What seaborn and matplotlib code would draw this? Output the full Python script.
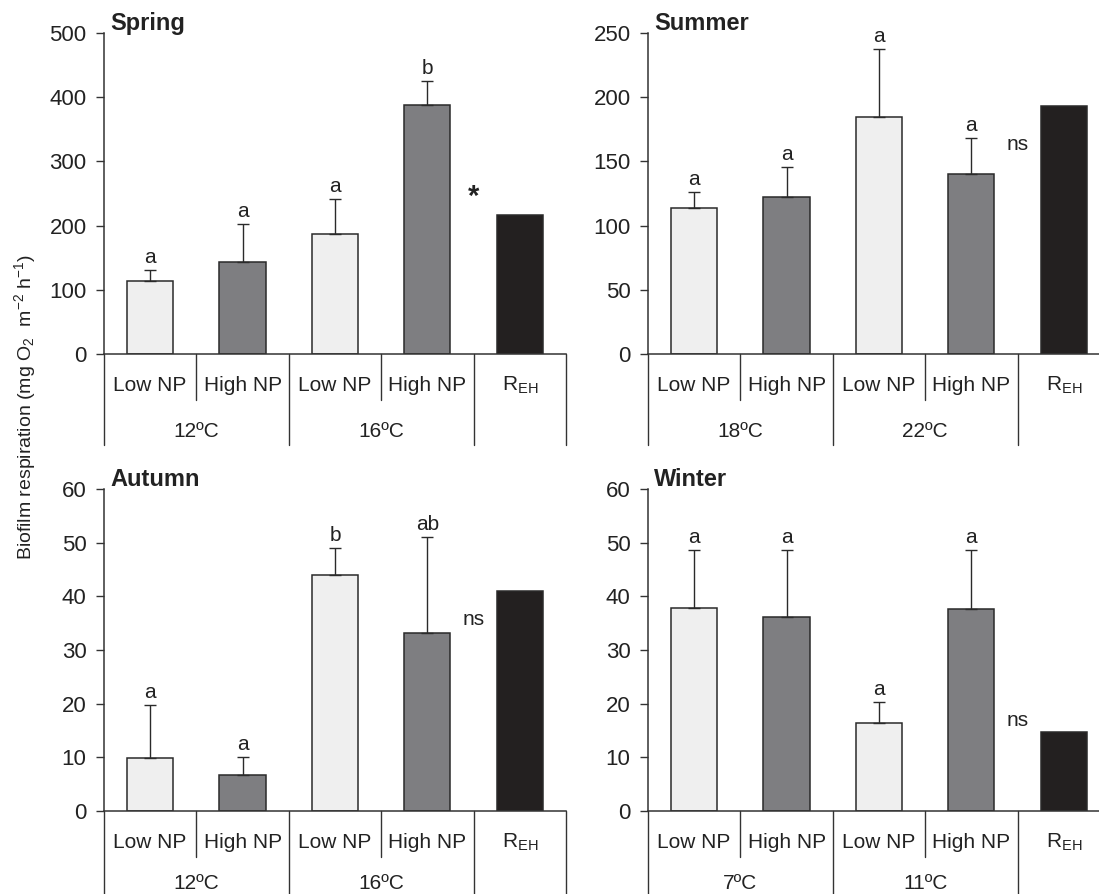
import numpy as np
import pandas as pd
import matplotlib
matplotlib.use("Agg")
import matplotlib.pyplot as plt
import seaborn as sns
from matplotlib import transforms

sns.set_style("ticks")
plt.rcParams['font.family'] = ['Liberation Sans', 'DejaVu Sans']
plt.rcParams['mathtext.fontset'] = 'custom'
plt.rcParams['mathtext.rm'] = 'Liberation Sans'
plt.rcParams['mathtext.it'] = 'Liberation Sans:italic'
plt.rcParams['mathtext.bf'] = 'Liberation Sans:bold'

# Data
treatments = ["Low NP", "High NP", "Low NP", "High NP", r"R$_{\mathrm{EH}}$"]
bar_keys = ["t1_low", "t1_high", "t2_low", "t2_high", "reh"]

spring_mean = [113, 143, 187, 388, 217]
spring_err = [18, 60, 54, 37]
spring_letters = ["a", "a", "a", "b"]
spring_temps = ["12ºC", "16ºC"]

summer_mean = [114, 122, 185, 140, 193]
summer_err = [12, 24, 52.5, 28]
summer_letters = ["a", "a", "a", "a"]
summer_temps = ["18ºC", "22ºC"]

autumn_mean = [9.9, 6.7, 44.0, 33.2, 41.0]
autumn_err = [9.9, 3.4, 5.0, 17.8]
autumn_letters = ["a", "a", "b", "ab"]
autumn_temps = ["12ºC", "16ºC"]

winter_mean = [37.8, 36.1, 16.3, 37.6, 14.7]
winter_err = [10.8, 12.5, 4.0, 11.0]
winter_letters = ["a", "a", "a", "a"]
winter_temps = ["7ºC", "11ºC"]

sig_labels = ["*", "ns", "ns", "ns"]

# layout
sig_y = [245, 163, 35.7, 16.8]
ymax = [500, 250, 60, 60]
ystep = [100, 50, 10, 10]
panel_pos = [
    [0.0946, 0.604, 0.4204, 0.359],
    [0.5896, 0.604, 0.4204, 0.359],
    [0.0946, 0.093, 0.4204, 0.360],
    [0.5896, 0.093, 0.4204, 0.360],
]
temp_y = [-0.24, -0.24, -0.226, -0.226]
bar_colors = ["#efefef", "#7d7e82", "#efefef", "#7d7e82", "#231f20"]
edge = "#2a2a2a"

panels = [
    ("Spring", spring_mean, spring_err, spring_letters, spring_temps),
    ("Summer", summer_mean, summer_err, summer_letters, summer_temps),
    ("Autumn", autumn_mean, autumn_err, autumn_letters, autumn_temps),
    ("Winter", winter_mean, winter_err, winter_letters, winter_temps),
]

fig = plt.figure(figsize=(10.99, 8.94), dpi=100)
fs = 15

for i, (name, mean, err, letters, temps) in enumerate(panels):
    ax = fig.add_axes(panel_pos[i])
    df = pd.DataFrame({"key": bar_keys, "value": mean})
    sns.barplot(data=df, x="key", y="value", hue="key", palette=bar_colors,
                order=bar_keys, width=0.5, edgecolor=edge, linewidth=1.1,
                legend=False, ax=ax)
    # one-sided error bars (upper only)
    xs = np.arange(4)
    ax.errorbar(xs, mean[:4], yerr=[np.zeros(4), err], fmt="none",
                ecolor=edge, elinewidth=1.0, capsize=4, capthick=1.0)
    for x, m, e, lab in zip(xs, mean[:4], err, letters):
        ax.annotate(lab, (x, m + e), xytext=(0, 5), textcoords="offset points",
                    ha="center", va="baseline", fontsize=fs, color="#222222")
    ax.text(3.5, sig_y[i], sig_labels[i], ha="center", va="center",
            fontsize=fs + (6 if sig_labels[i] == "*" else 0),
            fontweight="bold" if sig_labels[i] == "*" else "normal",
            color="#222222")

    ax.set_xlim(-0.5, 4.5)
    ax.set_ylim(0, ymax[i])
    ax.set_yticks(np.arange(0, ymax[i] + 1, ystep[i]))
    ax.tick_params(axis="y", labelsize=16, length=5.5, width=1, color="#333333",
                   labelcolor="#222222", pad=7)
    ax.tick_params(axis="x", length=0, labelbottom=False)
    ax.set_xlabel("")
    ax.set_ylabel("")
    sns.despine(ax=ax)
    for sp in ["left", "bottom"]:
        ax.spines[sp].set_color("#333333")
        ax.spines[sp].set_linewidth(1.1)

    # two-level category axis
    trans = transforms.blended_transform_factory(ax.transData, ax.transAxes)
    for xsep, low in [(-0.5, -0.285), (0.5, -0.143), (1.5, -0.285),
                      (2.5, -0.143), (3.5, -0.285), (4.5, -0.285)]:
        ax.plot([xsep, xsep], [0, low], transform=trans, color="#333333",
                lw=1.0, clip_on=False)
    for x, lab in enumerate(treatments):
        ax.text(x, -0.097, lab, transform=trans, ha="center", va="center",
                fontsize=fs, color="#222222")
    for x, lab in zip([0.5, 2.5], temps):
        ax.text(x, temp_y[i], lab, transform=trans, ha="center", va="center",
                fontsize=fs, color="#222222")

    ax.text(0.014, 1.03, name, transform=ax.transAxes, ha="left", va="center",
            fontsize=17, fontweight="bold", color="#222222")

fig.text(0.023, 0.545, r"Biofilm respiration (mg O$_2$  m$^{-2}$ h$^{-1}$)",
         rotation=90, ha="center", va="center", fontsize=14, color="#222222")

fig.savefig("out.png", dpi=100)
